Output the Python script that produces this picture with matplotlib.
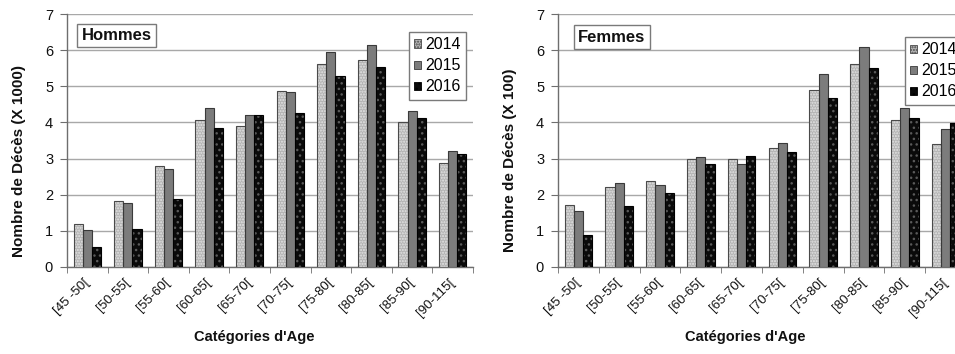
import matplotlib
matplotlib.use("Agg")
import matplotlib.pyplot as plt
from matplotlib.patches import Patch
import numpy as np

plt.rcParams['font.family'] = ['Liberation Sans', 'DejaVu Sans']
plt.rcParams['hatch.linewidth'] = 1.0

categories = ["[45 -50[", "[50-55[", "[55-60[", "[60-65[", "[65-70[",
              "[70-75[", "[75-80[", "[80-85[", "[85-90[", "[90-115["]
years = ["2014", "2015", "2016"]

hommes_2014 = [1.18, 1.83, 2.80, 4.07, 3.89, 4.88, 5.63, 5.73, 4.00, 2.89]
hommes_2015 = [1.02, 1.77, 2.72, 4.41, 4.21, 4.84, 5.94, 6.15, 4.32, 3.21]
hommes_2016 = [0.55, 1.06, 1.87, 3.85, 4.21, 4.25, 5.28, 5.54, 4.13, 3.14]

femmes_2014 = [1.72, 2.20, 2.38, 2.98, 3.00, 3.30, 4.90, 5.63, 4.06, 3.39]
femmes_2015 = [1.55, 2.33, 2.28, 3.04, 2.84, 3.43, 5.33, 6.09, 4.39, 3.83]
femmes_2016 = [0.89, 1.68, 2.04, 2.86, 3.07, 3.17, 4.68, 5.51, 4.12, 3.99]

# fill colour, hatch pattern, hatch colour, outline colour for each year
styles = [
    ("#b4b4b4", "......", "#e4e4e4", "#4a4a4a"),
    ("#7c7c7c", None, "#7c7c7c", "#3a3a3a"),
    ("#0a0a0a", "...", "#5a5a5a", "#000000"),
]

fig = plt.figure(figsize=(9.55, 3.54), dpi=100)
W, H = 955, 354


def panel(rect, series, title, ylabel, leg_anchor, title_xy):
    ax = fig.add_axes(rect)
    x = np.arange(len(categories))
    bw = 0.225
    for i, vals in enumerate(series):
        fc, hatch, hc, ec = styles[i]
        pos = x + (i - 1) * bw
        ax.bar(pos, vals, width=bw, color=fc, hatch=hatch, edgecolor=hc,
               linewidth=0, zorder=3)
        ax.bar(pos, vals, width=bw, fill=False, edgecolor=ec,
               linewidth=0.8, zorder=4)
    ax.set_xlim(-0.5, len(categories) - 0.5)
    ax.set_ylim(0, 7)
    ax.set_yticks(range(8))
    ax.yaxis.grid(True, color="#a8a8a8", linewidth=1.0, zorder=0)
    ax.set_axisbelow(True)
    for s in ("top", "right"):
        ax.spines[s].set_visible(False)
    for s in ("left", "bottom"):
        ax.spines[s].set_color("#6e6e6e")
        ax.spines[s].set_linewidth(1.0)
    ax.set_xticks(x)
    ax.set_xticklabels(categories, rotation=45, ha="right", va="center",
                       rotation_mode="anchor", fontsize=9.5, color="#111111")
    ax.tick_params(axis="x", which="major", length=0, pad=10)
    ax.set_xticks(np.arange(-0.5, len(categories)), minor=True)
    ax.tick_params(axis="x", which="minor", length=4, color="#6e6e6e",
                   direction="out")
    ax.tick_params(axis="y", length=5, color="#6e6e6e", labelsize=10.5,
                   pad=5, labelcolor="#111111")
    ax.set_ylabel(ylabel, fontsize=11, fontweight="bold", color="#111111")
    ax.yaxis.set_label_coords(-0.1, 0.42)
    ax.set_xlabel("Catégories d'Age", fontsize=10.5, fontweight="bold",
                  color="#111111")
    ax.xaxis.set_label_coords(0.46, -0.25)
    ax.text(title_xy[0], title_xy[1], title, transform=ax.transAxes,
            fontsize=12, fontweight="bold", ha="center", va="center",
            color="#111111",
            bbox=dict(boxstyle="square,pad=0.25", fc="white",
                      ec="#7a7a7a", lw=1.0), zorder=6)
    handles = [Patch(facecolor=styles[i][0], hatch=styles[i][1],
                     edgecolor=styles[i][3], linewidth=0.6)
               for i in range(3)]
    leg = ax.legend(handles, years, loc="upper left",
                    bbox_to_anchor=leg_anchor, fontsize=11.5,
                    handlelength=0.42, handleheight=0.42, handletextpad=0.25,
                    borderpad=0.35, labelspacing=0.38, borderaxespad=0,
                    fancybox=False, framealpha=1, edgecolor="#7a7a7a")
    leg.get_frame().set_linewidth(1.0)
    leg.set_zorder(6)
    return ax


bottom = (H - 267) / H
height = 253 / H
panel([67 / W, bottom, 406 / W, height],
      [hommes_2014, hommes_2015, hommes_2016],
      "Hommes", "Nombre de Décès (X 1000)", (0.842, 0.93), (0.122, 0.915))
panel([558 / W, bottom, 408 / W, height],
      [femmes_2014, femmes_2015, femmes_2016],
      "Femmes", "Nombre de Décès (X 100)", (0.850, 0.91), (0.132, 0.909))

fig.savefig("out.png", dpi=100)
